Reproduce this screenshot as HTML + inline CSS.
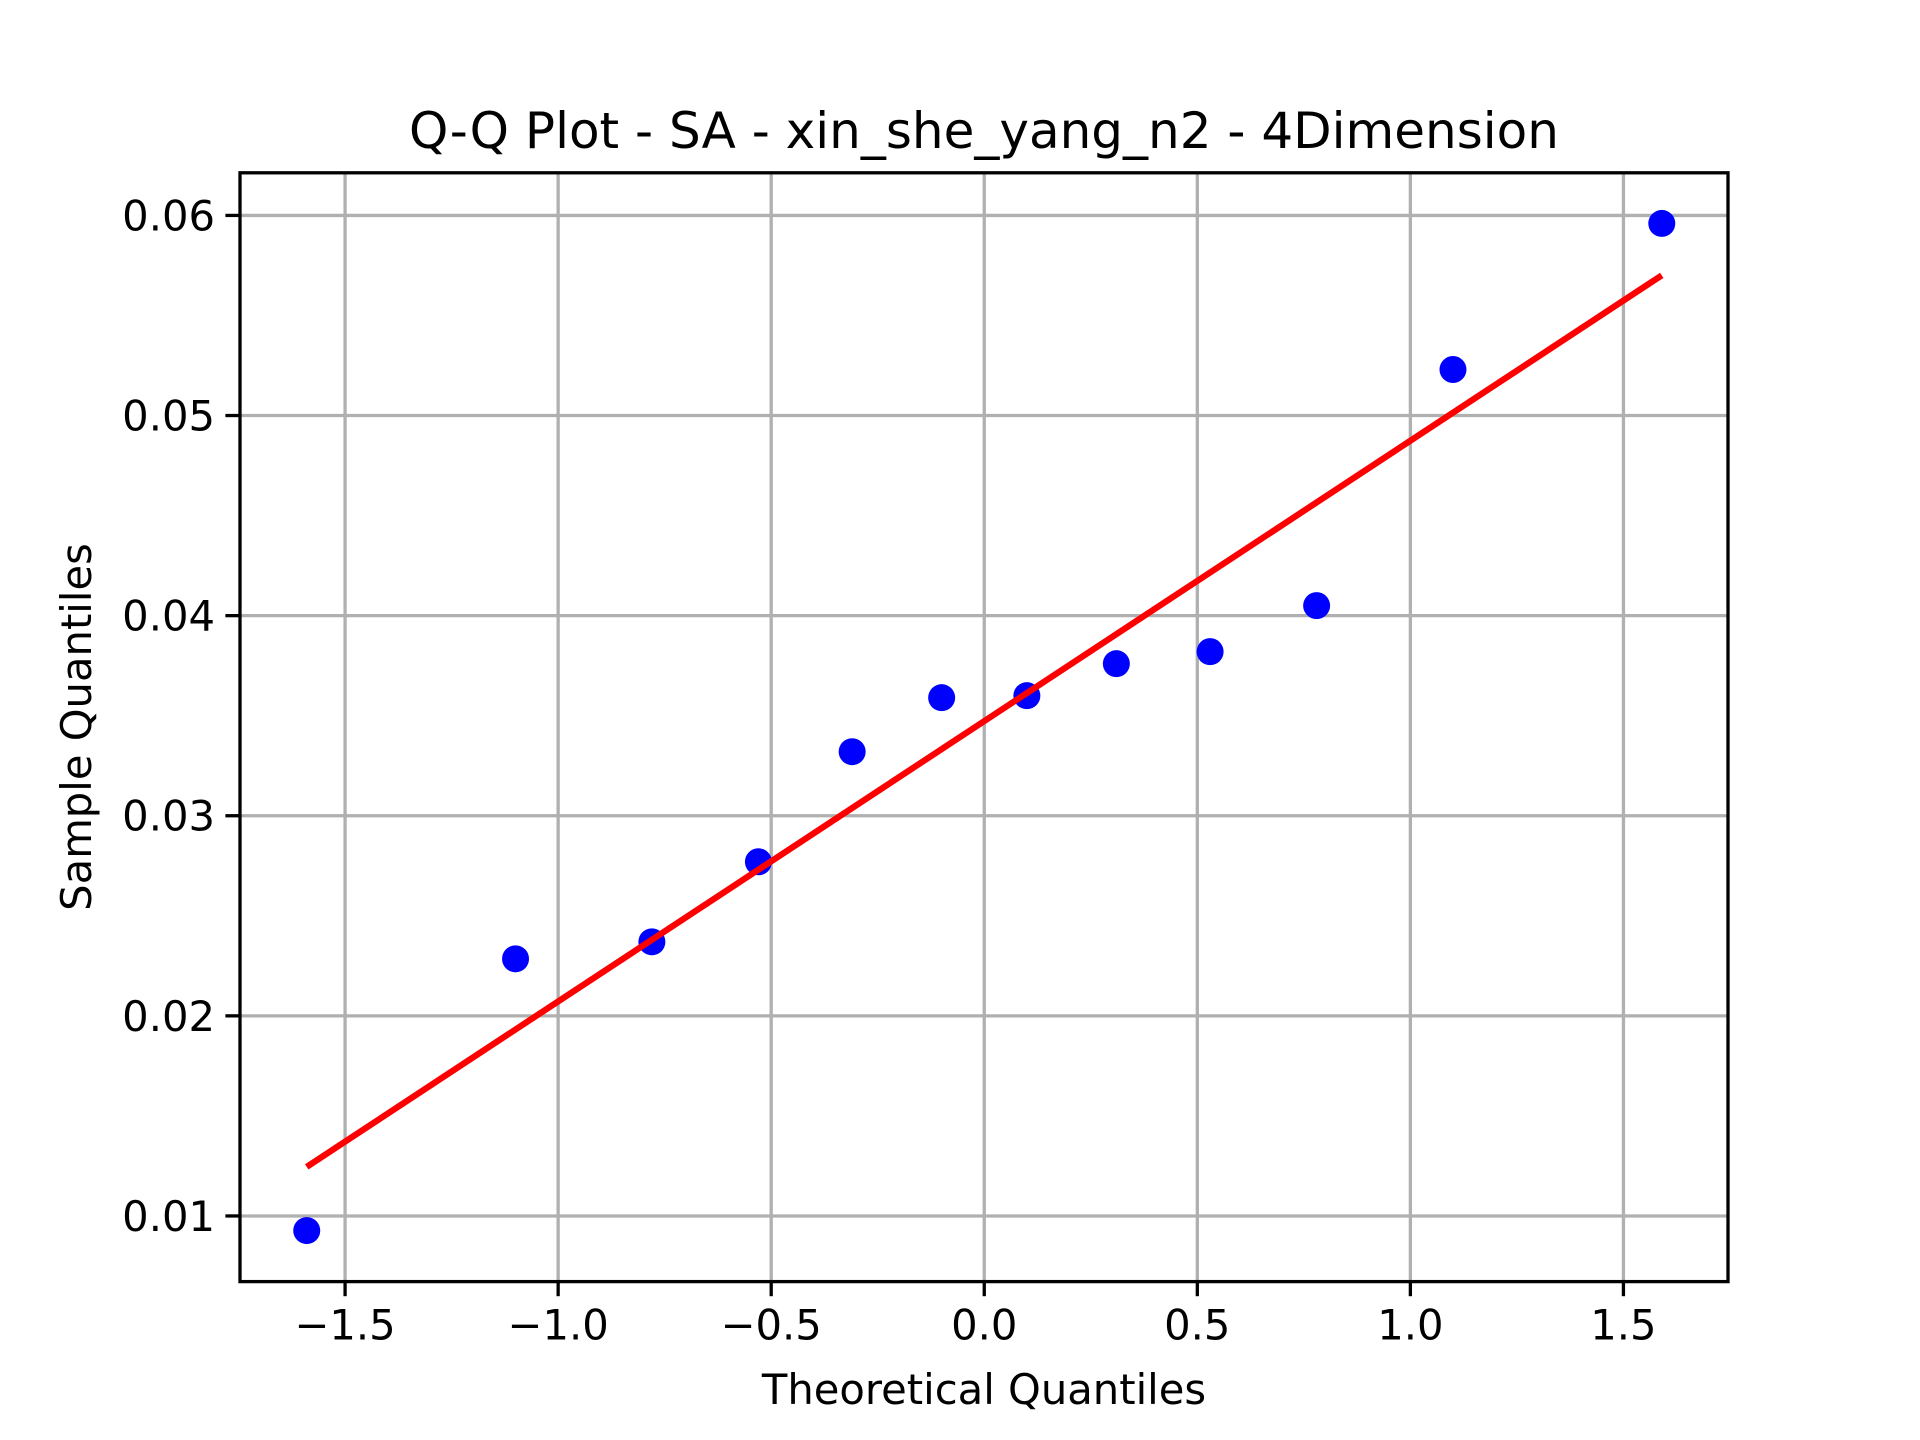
<!DOCTYPE html>
<html><head><meta charset="utf-8"><style>html,body{margin:0;padding:0;background:#fff}svg{display:block}</style></head>
<body>
<svg id="chart" xmlns="http://www.w3.org/2000/svg" width="1920" height="1440" font-family="'DejaVu Sans','Liberation Sans',sans-serif">
<rect width="1920" height="1440" fill="#fff"/>
<g id="grid"></g>
<g id="marks"></g>
<rect x="240" y="172.8" width="1488" height="1108.8" fill="none" stroke="#000" stroke-width="3.3"/>
<g id="ticks"></g>
<text x="984" y="148" font-size="50" text-anchor="middle">Q-Q Plot - SA - xin_she_yang_n2 - 4Dimension</text>
<text x="984" y="1404" font-size="41.7" text-anchor="middle">Theoretical Quantiles</text>
<text x="0" y="0" font-size="41.7" text-anchor="middle" transform="translate(91,727) rotate(-90)">Sample Quantiles</text>
</svg>
<script>
const theoretical = [-1.59,-1.10,-0.78,-0.53,-0.31,-0.10,0.10,0.31,0.53,0.78,1.10,1.59];
const sample = [0.00927,0.02285,0.0237,0.0277,0.0332,0.0359,0.0360,0.0376,0.0382,0.0405,0.0523,0.0596];
const fitSlope = 0.01401;
const fitIntercept = 0.03473;
const xTicks = [-1.5,-1.0,-0.5,0.0,0.5,1.0,1.5];
const xTickLabels = ["\u22121.5","\u22121.0","\u22120.5","0.0","0.5","1.0","1.5"];
const yTicks = [0.01,0.02,0.03,0.04,0.05,0.06];
const yTickLabels = ["0.01","0.02","0.03","0.04","0.05","0.06"];

const L=240,R=1728,T=172.8,B=1281.6;
const xMin=-1.7466,xMax=1.7454,yMin=0.00672,yMax=0.06213;
const sx=v=>L+(v-xMin)/(xMax-xMin)*(R-L);
const sy=v=>B-(v-yMin)/(yMax-yMin)*(B-T);
const NS='http://www.w3.org/2000/svg';
function mk(tag,attrs,parent){const e=document.createElementNS(NS,tag);for(const k in attrs)e.setAttribute(k,attrs[k]);parent.appendChild(e);return e;}
const grid=document.getElementById('grid'),marks=document.getElementById('marks'),ticks=document.getElementById('ticks');
xTicks.forEach((v,i)=>{
 const x=sx(v);
 const g=mk('line',{x1:x,x2:x,y1:T,y2:B,stroke:'#b0b0b0','stroke-width':3.3},grid);
 
 
 const t=mk('line',{x1:x,x2:x,y1:B,y2:B+14.6,stroke:'#000','stroke-width':3.3},ticks);
 
 
 const l=mk('text',{x:x,y:B+58,'font-size':41.7,'text-anchor':'middle'},ticks);
 l.textContent=xTickLabels[i];
 
 
});
yTicks.forEach((v,i)=>{
 const y=sy(v);
 const g=mk('line',{x1:L,x2:R,y1:y,y2:y,stroke:'#b0b0b0','stroke-width':3.3},grid);
 
 
 const t=mk('line',{x1:L-14.6,x2:L,y1:y,y2:y,stroke:'#000','stroke-width':3.3},ticks);
 
 
 const l=mk('text',{x:L-25,y:y+15,'font-size':41.7,'text-anchor':'end'},ticks);
 l.textContent=yTickLabels[i];
 
 
});
theoretical.forEach((q,i)=>{
 const c=mk('circle',{cx:sx(q),cy:sy(sample[i]),r:13.5,fill:'#0000ff'},marks);
 
 
});
const x0=theoretical[0],x1=theoretical[theoretical.length-1];
const fl=mk('line',{x1:sx(x0),y1:sy(fitIntercept+fitSlope*x0),x2:sx(x1),y2:sy(fitIntercept+fitSlope*x1),stroke:'#ff0000','stroke-width':6.25},marks);


</script>
</body></html>
